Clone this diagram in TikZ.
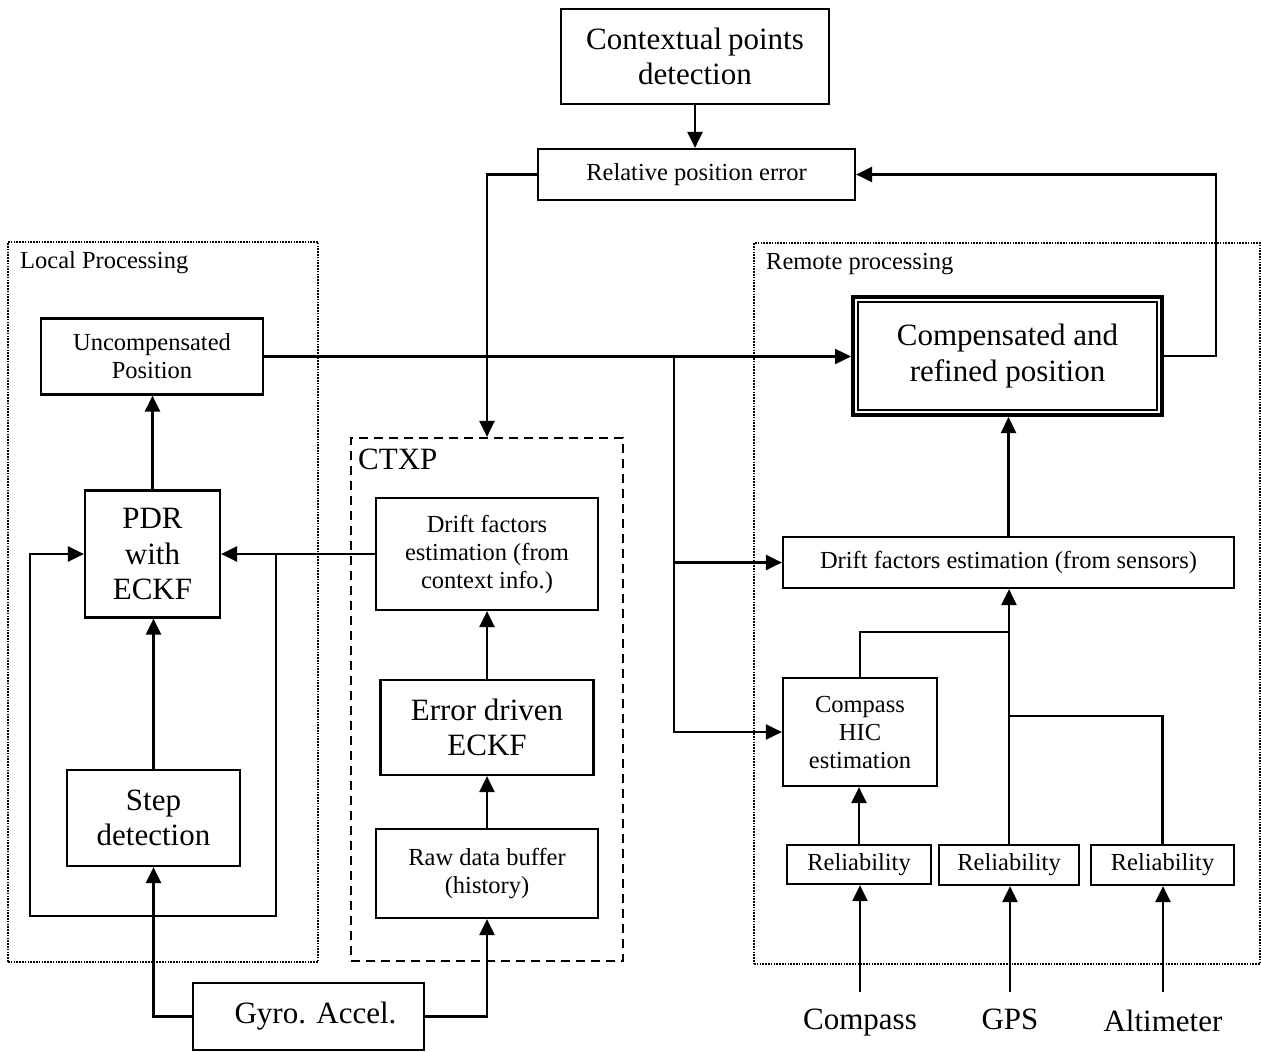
\documentclass[tikz,border=0pt]{standalone}
\usepackage{fontspec}
\setmainfont{Liberation Serif}
\usetikzlibrary{arrows.meta,calc}
\newcommand{\smallf}{\fontsize{24.5}{28}\selectfont}
\newcommand{\largef}{\fontsize{31}{35.5}\selectfont}
\tikzset{
  blk/.style={draw, line width=2.2pt, inner sep=0pt, align=center},
  sm/.style={blk, font=\smallf},
  lg/.style={blk, font=\largef},
  arr/.style={line width=2.4pt, -{Triangle[length=16pt,width=15pt]}},
  ln/.style={line width=2.4pt},
  dotbox/.style={draw, line width=1.8pt, dash pattern=on 1.6pt off 1.2pt},
  dashbox/.style={draw, line width=2.2pt, dash pattern=on 9pt off 6pt},
}
\begin{document}
\begin{tikzpicture}[x=1pt,y=-1pt]
\useasboundingbox[fill=white] (0,0) rectangle (1261,1052);

% group frames
\node[dotbox, minimum width=310pt, minimum height=720pt, inner sep=0pt] (loc) at (163,602) {};
\node[dotbox, minimum width=506pt, minimum height=721pt, inner sep=0pt] (rem) at (1007,603.5) {};
\node[dashbox, minimum width=272pt, minimum height=523pt, inner sep=0pt] (ctxp) at (487,699.5) {};
\node[anchor=west, font=\smallf, inner sep=0pt] (loclab) at (20,263) {Local Processing};
\node[anchor=west, font=\smallf, inner sep=0pt] (remlab) at (766,264) {Remote processing};
\node[anchor=west, font=\largef, inner sep=0pt] (ctxplab) at (358,459) {CTXP};

% top
\node[lg, minimum width=268pt, minimum height=95pt] (ctx) at (695,56.5) {Contextual\hspace{-2pt} points\\detection};
\node[sm, minimum width=317pt, minimum height=51pt] (rel) at (696.5,174.5) {Relative position error};

% local
\node[sm, minimum width=222pt, minimum height=76pt] (unc) at (152,356.5) {Uncompensated\\Position};
\node[lg, minimum width=135pt, minimum height=127pt] (pdr) at (152.5,554) {PDR\\with\\ECKF};
\node[lg, minimum width=173pt, minimum height=96pt] (step) at (153.5,818) {Step\\detection};
\node[lg, minimum width=231pt, minimum height=67pt] (gyro) at (308.5,1016.5) {\hspace*{14pt}Gyro. Accel.};

% CTXP
\node[sm, minimum width=222pt, minimum height=112pt] (dctx) at (487,554) {Drift factors\\estimation (from\\context info.)};
\node[lg, minimum width=213pt, minimum height=95pt] (err) at (487,727.5) {Error driven\\ECKF};
\node[sm, minimum width=222pt, minimum height=89pt] (raw) at (487,873.5) {Raw data buffer\\(history)};

% remote
\node[lg, line width=4pt, minimum width=309pt, minimum height=118pt] (comp) at (1007.5,356) {Compensated and\\refined position};
\draw[line width=2.2pt] ([shift={(7,7)}]comp.north west) rectangle ([shift={(-7,-7)}]comp.south east);
\node[sm, minimum width=451pt, minimum height=51pt] (dsen) at (1008.5,562.5) {Drift factors estimation (from sensors)};
\node[sm, minimum width=154pt, minimum height=108pt] (hic) at (860,732) {Compass\\HIC\\estimation};
\node[sm, minimum width=144pt, minimum height=39pt] (r1) at (859,864.5) {Reliability};
\node[sm, minimum width=140pt, minimum height=40pt] (r2) at (1009,865) {Reliability};
\node[sm, minimum width=143pt, minimum height=40pt] (r3) at (1162.5,865) {Reliability};

% inputs
\node[font=\largef, inner sep=0pt] (cin) at (860,1023) {Compass};
\node[font=\largef, inner sep=0pt] (gin) at (1010,1019) {GPS};
\node[font=\largef, inner sep=0pt] (ain) at (1163,1021) {Altimeter};
\coordinate (cs) at (860,992);
\coordinate (gs) at (1010,992);
\coordinate (as) at (1163,992);

% connectors
\draw[arr] (ctx.south) -- (ctx.south |- rel.north);
\draw[arr] (rel.west) -| (ctxp.north);
\draw[arr] (comp.east) -- ++(52,0) |- (rel.east);
\draw[arr] (unc.east) -- (unc.east -| comp.west);
\coordinate (br) at (674,356.5);
\draw[arr] (br) |- (dsen.west);
\draw[arr] (br) |- (hic.west);
\draw[arr] (pdr.north) -- (pdr.north |- unc.south);
\draw[arr] (step.north) -- (step.north |- pdr.south);
\draw[arr] (dctx.west) -- (pdr.east);
\coordinate (lpa) at (276,916);
\coordinate (lpb) at (30,916);
\draw[arr] (pdr.east -| lpa) -- (lpa) -- (lpb) |- (pdr.west);
\draw[arr] (gyro.west) -| (step.south);
\draw[arr] (gyro.east) -| (raw.south);
\draw[arr] (err.north) -- (dctx.south);
\draw[arr] (raw.north) -- (err.south);
\draw[arr] (dsen.north) -- (dsen.north |- comp.south);
\draw[arr] (r2.north) -- (r2.north |- dsen.south);
\coordinate (j1) at (1009,632);
\coordinate (j2) at (1009,716);
\draw[ln] (hic.north) |- (j1);
\draw[ln] (r3.north) |- (j2);
\draw[arr] (r1.north) -- (r1.north |- hic.south);
\draw[arr] (cs) -- (cs |- r1.south);
\draw[arr] (gs) -- (gs |- r2.south);
\draw[arr] (as) -- (as |- r3.south);
\end{tikzpicture}
\end{document}
